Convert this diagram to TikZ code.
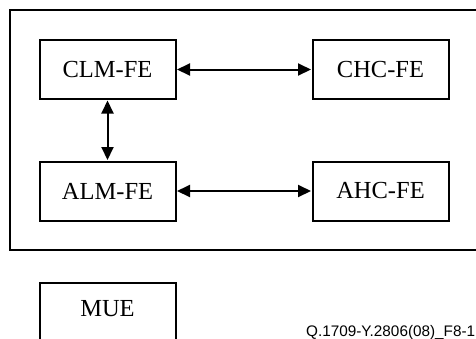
\documentclass[tikz,border=0pt]{standalone}
\usepackage{fontspec}
\setmainfont{Liberation Serif}
\newfontfamily\labelfont{Liberation Sans}
\usetikzlibrary{arrows.meta}
\begin{document}
\begin{tikzpicture}[x=1pt,y=-1pt,
  fe/.style={draw,line width=2pt,minimum width=136pt,minimum height=59pt,inner sep=0pt,font=\fontsize{24.5}{28}\selectfont},
  link/.style={line width=2pt,{Triangle[length=13pt,width=12pt]}-{Triangle[length=13pt,width=12pt]},shorten <=0.5pt,shorten >=0.5pt}]
  \useasboundingbox (0,0) rectangle (476,338);
  \clip (0,0) rectangle (476,338);
  % outer grouping frame
  \draw[line width=2pt] (495,10) -- (9.5,10) -- (9.5,250) -- (495,250);
  % functional entities
  \node[fe] (clm) at (107.5,69.5) {CLM-FE};
  \node[fe] (chc) at (380.5,69.5) {CHC-FE};
  \node[fe] (alm) at (107.5,191) {ALM-FE};
  \node[fe] (ahc) at (380.5,191) {AHC-FE};
  \node[fe,anchor=north] (mue) at (107.5,282) {};
  \node[font=\fontsize{24.5}{28}\selectfont] (muetxt) at (107.5,309) {MUE};
  % links
  \draw[link] (clm) -- (chc);
  \draw[link] (alm) -- (ahc);
  \draw[link] (clm) -- (alm);
  % figure reference
  \node[anchor=base west,inner sep=0pt,font=\labelfont\fontsize{15.3}{17}\selectfont] (ref) at (306,336) {Q.1709-Y.2806(08)\_F8-1};
\end{tikzpicture}
\end{document}
